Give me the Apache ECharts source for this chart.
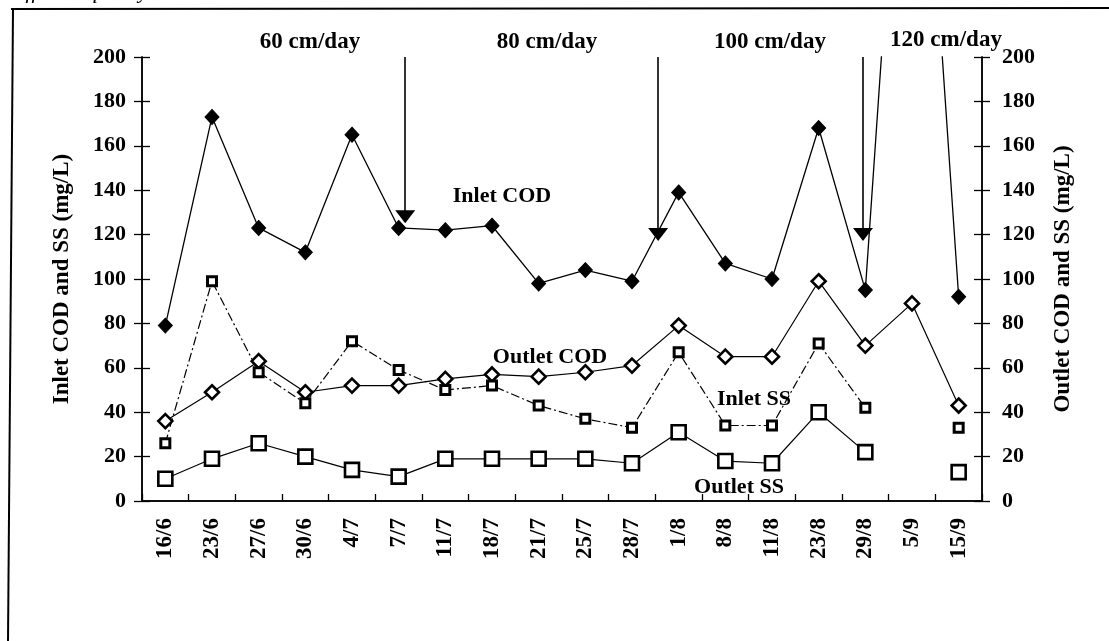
<!DOCTYPE html>
<html>
<head>
<meta charset="utf-8">
<style>
  html, body { margin: 0; padding: 0; background: #fff; }
  #main { width: 1109px; height: 641px; }
</style>
</head>
<body>
<div id="main"></div>
<script src="https://cdn.jsdelivr.net/npm/echarts@6/dist/echarts.min.js"></script>
<script>
// sampling dates
var dates = ['16/6', '23/6', '27/6', '30/6', '4/7', '7/7', '11/7', '18/7', '21/7',
             '25/7', '28/7', '1/8', '8/8', '11/8', '23/8', '29/8', '5/9', '15/9'];
// mg/L  (5/9 inlet COD is off the scale, line runs out of the top)
var inletCOD  = [79, 173, 123, 112, 165, 123, 122, 124, 98, 104, 99, 139, 107, 100, 168, 95, 400, 92];
var outletCOD = [36, 49, 63, 49, 52, 52, 55, 57, 56, 58, 61, 79, 65, 65, 99, 70, 89, 43];
var inletSS   = [26, 99, 58, 44, 72, 59, 50, 52, 43, 37, 33, 67, 34, 34, 71, 42, null, 33];
var outletSS  = [10, 19, 26, 20, 14, 11, 19, 19, 19, 19, 17, 31, 18, 17, 40, 22, null, 13];
// loading-rate change arrows: [category position, from, to]
var arrows = [[5.14, 200, 128], [10.56, 200, 120], [14.95, 200, 120]];
var rates = ['60 cm/day', '80 cm/day', '100 cm/day', '120 cm/day'];

var font = 'Liberation Serif';
var black = '#000';

var myChart = echarts.init(document.getElementById('main'));

function yAx(pos, inside, name) {
    return {
        type: 'value', position: pos, min: 0, max: 200, interval: 20,
        name: name || '', nameLocation: 'middle', nameRotate: 90,
        nameGap: pos == 'left' ? 68 : 70,
        nameTextStyle: { fontFamily: font, fontWeight: 'bold', fontSize: 23, color: black },
        axisLine: { show: true, onZero: false, lineStyle: { color: black, width: 1.5 } },
        axisTick: { show: true, inside: inside, length: 8, lineStyle: { color: black, width: 1.3 } },
        axisLabel: { show: !inside, margin: pos == 'left' ? 16 : 20,
            fontFamily: font, fontWeight: 'bold', fontSize: 22, color: black },
        splitLine: { show: false }
    };
}

function txt(x, y, s, size) {
    return {
        type: 'text', x: x, y: y, silent: true,
        style: { text: s, fill: black, font: 'bold ' + (size || 22) + 'px "Liberation Serif"',
                 align: 'center', verticalAlign: 'middle' }
    };
}

var markData = arrows.map(function (a) {
    return [{ coord: [a[0], a[1]] }, { coord: [a[0], a[2]], symbolSize: [20, 13] }];
});

option = {
    animation: false,
    grid: { left: 142, right: 127, top: 57, bottom: 140, containLabel: false },
    xAxis: [
        {
            type: 'category', data: dates, position: 'bottom',
            axisLine: { onZero: false, lineStyle: { color: black, width: 1.5 } },
            axisTick: { length: 7, lineStyle: { color: black, width: 1.3 } },
            axisLabel: { rotate: 90, margin: 17, interval: 0,
                fontFamily: font, fontWeight: 'bold', fontSize: 23, color: black }
        },
        {
            type: 'category', data: dates, position: 'bottom',
            axisLine: { show: true, onZero: false, lineStyle: { color: black, width: 1.5 } },
            axisTick: { show: true, inside: true, length: 7, lineStyle: { color: black, width: 1.3 } },
            axisLabel: { show: false }
        },
        { type: 'value', min: -0.5, max: 17.5, show: false, axisLine: { onZero: false } }
    ],
    yAxis: [
        yAx('left', false, 'Inlet COD and SS (mg/L)'),
        yAx('right', false, 'Outlet COD and SS (mg/L)'),
        yAx('left', true),
        yAx('right', true)
    ],
    series: [
        {
            name: 'Inlet COD', type: 'line', data: inletCOD, clip: true,
            symbol: 'diamond', symbolSize: [14, 15],
            itemStyle: { color: black, borderColor: black },
            lineStyle: { color: black, width: 1.3 }
        },
        {
            name: 'Outlet COD', type: 'line', data: outletCOD,
            symbol: 'diamond', symbolSize: [14, 14],
            itemStyle: { color: '#fff', borderColor: black, borderWidth: 2.6 },
            lineStyle: { color: black, width: 1.2 }
        },
        {
            name: 'Inlet SS', type: 'line', data: inletSS, connectNulls: false,
            symbol: 'rect', symbolSize: 9,
            itemStyle: { color: '#fff', borderColor: black, borderWidth: 3 },
            lineStyle: { color: black, width: 1.2, type: [9, 3, 2, 3] }
        },
        {
            name: 'Outlet SS', type: 'line', data: outletSS, connectNulls: false,
            symbol: 'rect', symbolSize: 14,
            itemStyle: { color: '#fff', borderColor: black, borderWidth: 2.6 },
            lineStyle: { color: black, width: 1.2 }
        },
        // empty series so the inside-tick axes get drawn
        { type: 'line', xAxisIndex: 1, yAxisIndex: 2, data: [], silent: true },
        { type: 'line', xAxisIndex: 1, yAxisIndex: 3, data: [], silent: true },
        {
            type: 'line', xAxisIndex: 2, yAxisIndex: 0, data: [], silent: true,
            markLine: {
                silent: true, animation: false,
                symbol: ['none', 'triangle'], symbolSize: [1, 16],
                label: { show: false },
                lineStyle: { color: black, width: 1.6, type: 'solid' },
                emphasis: { disabled: true },
                data: markData
            }
        }
    ],
    graphic: [
        // page frame
        { type: 'line', silent: true, shape: { x1: 11, y1: 9, x2: 1109, y2: 8 }, style: { stroke: black, lineWidth: 2 } },
        { type: 'line', silent: true, shape: { x1: 13, y1: 9, x2: 8, y2: 641 }, style: { stroke: black, lineWidth: 2 } },
        { type: 'text', x: 12, y: 3, silent: true,
          style: { text: 'Effluent quality', fill: black, font: 'italic 22px "Liberation Serif"',
                   align: 'left', verticalAlign: 'bottom' } },
        txt(310, 42, rates[0], 23),
        txt(547, 42, rates[1], 23),
        txt(770, 42, rates[2], 23),
        txt(946, 40, rates[3], 23),
        txt(502, 196, 'Inlet COD'),
        txt(550, 357, 'Outlet COD'),
        txt(754, 399, 'Inlet SS'),
        txt(739, 487, 'Outlet SS')
    ]
};
myChart.setOption(option);
</script>
</body>
</html>
